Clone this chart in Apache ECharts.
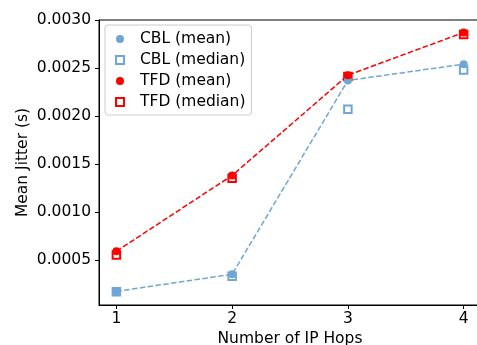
<!DOCTYPE html>
<html><head><meta charset="utf-8">
<script src="https://cdn.jsdelivr.net/npm/echarts@6/dist/echarts.min.js"></script>
<style>html,body{margin:0;padding:0;background:#fff}#c{width:477px;height:345px}</style>
</head><body><div id="c"></div>
<script>
const hops = [1, 2, 3, 4];
const cblMean = [0.000172, 0.00035, 0.00237, 0.00254];
const cblMedian = [0.000168, 0.00033, 0.00207, 0.00248];
const tfdMean = [0.00059, 0.00138, 0.002425, 0.00287];
const tfdMedian = [0.00055, 0.00135, 0.00241, 0.00285];
const yTicks = [0.0005, 0.0010, 0.0015, 0.0020, 0.0025, 0.0030];

const pairs = v => hops.map((h, i) => [h, v[i]]);
const BLUE = '#70a6d5', RED = '#ff0000';
const font = 'DejaVu Sans';
const FS = 15.5;

const chart = echarts.init(document.getElementById('c'), null, {renderer: 'canvas'});
chart.setOption({
  animation: false,
  backgroundColor: '#fff',
  textStyle: {fontFamily: font},
  grid: {left: 99, top: 20, right: -4, bottom: 40, outerBoundsMode: 'none', containLabel: false,
         show: true, borderColor: '#000', borderWidth: 1, backgroundColor: 'transparent'},
  legend: {
    orient: 'vertical', left: 105, top: 25,
    backgroundColor: '#fff', borderColor: '#cccccc', borderWidth: 1, borderRadius: 3,
    padding: [6, 6, 5, 10], itemGap: 5, itemWidth: 8, itemHeight: 8,
    textStyle: {fontSize: FS, fontFamily: font, color: '#000', padding: [0, 0, 0, 11]},
    data: ['CBL (mean)', 'CBL (median)', 'TFD (mean)', 'TFD (median)']
  },
  xAxis: {
    type: 'value', min: 0.85, max: 4.15,
    name: 'Number of IP Hops', nameLocation: 'middle', nameGap: 26, nameMoveOverlap: false,
    nameTextStyle: {fontSize: FS, color: '#000', fontFamily: font},
    axisLine: {show: true, lineStyle: {color: '#000', width: 1}},
    axisTick: {show: true, length: 4, lineStyle: {color: '#000'}, customValues: hops},
    axisLabel: {fontSize: FS, color: '#000', margin: 6, customValues: hops, formatter: v => String(v)},
    splitLine: {show: false}
  },
  yAxis: {
    type: 'value', min: 0.00003, max: 0.003,
    name: 'Mean Jitter (s)', nameLocation: 'middle', nameGap: 68, nameMoveOverlap: false,
    nameTextStyle: {fontSize: FS, color: '#000', fontFamily: font},
    axisLine: {show: true, lineStyle: {color: '#000', width: 1}},
    axisTick: {show: true, length: 4, lineStyle: {color: '#000'}, customValues: yTicks},
    axisLabel: {fontSize: FS, color: '#000', margin: 8, customValues: yTicks, formatter: v => v.toFixed(4)},
    splitLine: {show: false}
  },
  series: [
    {name: 'CBL line', type: 'line', data: pairs(cblMean), showSymbol: false, symbol: 'none',
     lineStyle: {color: BLUE, width: 1.5, type: [5.5, 2.4]}, z: 1, silent: true},
    {name: 'TFD line', type: 'line', data: pairs(tfdMean), showSymbol: false, symbol: 'none',
     lineStyle: {color: RED, width: 1.5, type: [5.5, 2.4]}, z: 1, silent: true},
    {name: 'CBL (mean)', type: 'scatter', data: pairs(cblMean), symbol: 'circle', symbolSize: 8,
     itemStyle: {color: BLUE, opacity: 1}, z: 3},
    {name: 'CBL (median)', type: 'scatter', data: pairs(cblMedian), symbol: 'emptyRect', symbolSize: 7.5,
     itemStyle: {color: BLUE, borderColor: BLUE, borderWidth: 1.5, opacity: 1}, z: 2},
    {name: 'TFD (mean)', type: 'scatter', data: pairs(tfdMean), symbol: 'circle', symbolSize: 8,
     itemStyle: {color: RED, opacity: 1}, z: 3},
    {name: 'TFD (median)', type: 'scatter', data: pairs(tfdMedian), symbol: 'emptyRect', symbolSize: 7.5,
     itemStyle: {color: RED, borderColor: RED, borderWidth: 1.5, opacity: 1}, z: 2}
  ]
});
</script></body></html>
